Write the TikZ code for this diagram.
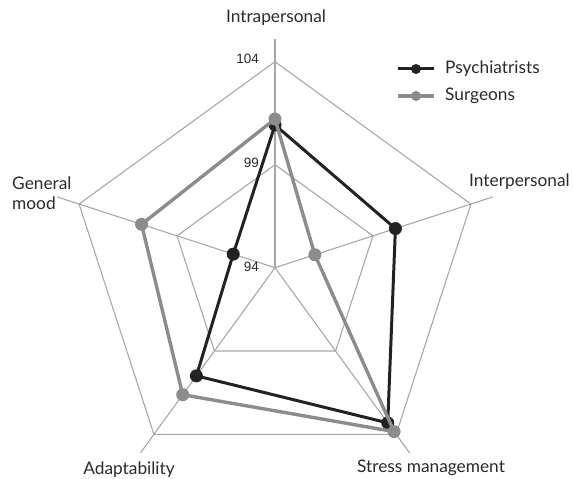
\documentclass[tikz,border=0pt]{standalone}
\usepackage{fontspec}
\setmainfont{Lato}
\newfontfamily\tickfont{Liberation Sans}
\usetikzlibrary{calc}
\definecolor{gridc}{HTML}{A8A8A8}
\definecolor{psyc}{HTML}{222222}
\definecolor{surc}{HTML}{8C8C8C}
\definecolor{txtc}{HTML}{2A2A2A}
\tikzset{
  grid/.style={draw=gridc, line width=1.1pt},
  psyline/.style={draw=psyc, line width=3pt, line join=round},
  surline/.style={draw=surc, line width=3.4pt, line join=round},
  psydot/.style={circle, fill=psyc, inner sep=0pt, minimum size=13pt},
  surdot/.style={circle, fill=surc, inner sep=0pt, minimum size=13pt},
  axlabel/.style={text=txtc, font=\fontsize{17.3}{20}\selectfont, inner sep=0pt},
  ticklabel/.style={text=txtc, font=\tickfont\fontsize{13.5}{15}\selectfont, inner sep=0pt, anchor=east},
}
\begin{document}
\begin{tikzpicture}[x=1pt,y=1pt]
\useasboundingbox (0,0) rectangle (573,479);
\coordinate (C) at (275,211.3);
% outer and middle rings
\foreach \r in {206,103} {
  \draw[grid] ($(C)+(90:\r)$) -- ($(C)+(18:\r)$) -- ($(C)+(-54:\r)$) -- ($(C)+(-126:\r)$) -- ($(C)+(162:\r)$) -- cycle;
}
% axes
\foreach \a/\n in {90/a1,18/a2,-54/a3,-126/a4,162/a5} {
  \coordinate (\n) at ($(C)+(\a:229)$);
  \draw[grid] (C) -- (\n);
}
% ticks
\node[ticklabel] (t104) at (259,420) {104};
\node[ticklabel] (t99) at (259,316) {99};
\node[ticklabel] (t94) at (259,212.3) {94};
% psychiatrists
\coordinate (p1) at ($(C)+(90:142.7)$);
\coordinate (p2) at ($(C)+(18:126.6)$);
\coordinate (p3) at ($(C)+(-54:191.8)$);
\coordinate (p4) at ($(C)+(-126:133.7)$);
\coordinate (p5) at ($(C)+(162:43.9)$);
\draw[psyline] (p1) -- (p2) -- (p3) -- (p4) -- (p5) -- cycle;
\foreach \p in {p1,p2,p3,p4,p5} \node[psydot] at (\p) {};
% surgeons
\coordinate (s1) at ($(C)+(90:148.7)$);
\coordinate (s2) at ($(C)+(18:41.9)$);
\coordinate (s3) at ($(C)+(-54:202.6)$);
\coordinate (s4) at ($(C)+(-126:157)$);
\coordinate (s5) at ($(C)+(162:140.3)$);
\draw[surline] (s1) -- (s2) -- (s3) -- (s4) -- (s5) -- cycle;
\foreach \p in {s1,s2,s3,s4,s5} \node[surdot] at (\p) {};
% axis labels
\node[axlabel] (l1) at (276,461) {Intrapersonal};
\node[axlabel, anchor=west] (l2) at (469,297.3) {Interpersonal};
\node[axlabel, align=left, anchor=west] (l5) at (12,285.5) {General\\mood};
\node[axlabel, anchor=south] (l4) at (129,1) {Adaptability};
\node[axlabel] (l3) at (431,11) {Stress management};
% legend
\coordinate (lg1a) at (398,410);
\coordinate (lg1b) at (434,410);
\draw[psyline] (lg1a) -- (lg1b);
\node[psydot, minimum size=10pt] (lgd1) at ($(lg1a)!0.5!(lg1b)$) {};
\node[axlabel, anchor=west] (lt1) at (445,410) {Psychiatrists};
\coordinate (lg2a) at (398,383);
\coordinate (lg2b) at (434,383);
\draw[surline] (lg2a) -- (lg2b);
\node[surdot, minimum size=10pt] (lgd2) at ($(lg2a)!0.5!(lg2b)$) {};
\node[axlabel, anchor=west] (lt2) at (445,383) {Surgeons};
\end{tikzpicture}
\end{document}
